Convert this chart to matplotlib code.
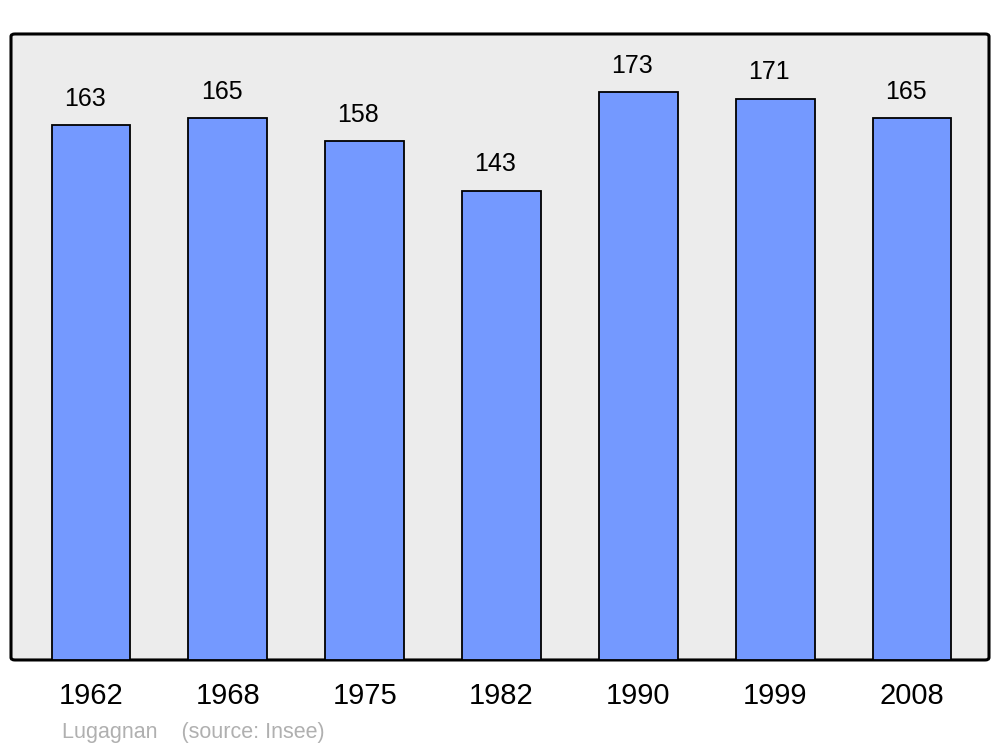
import matplotlib
matplotlib.use('Agg')
import matplotlib.pyplot as plt
from matplotlib.patches import FancyBboxPatch

plt.rcParams['font.family'] = ['Liberation Sans', 'DejaVu Sans']

years = ['1962', '1968', '1975', '1982', '1990', '1999', '2008']
population = [163, 165, 158, 143, 173, 171, 165]

fig = plt.figure(figsize=(10, 7.47), dpi=100)
ax = fig.add_axes([0.011, 0.1165, 0.978, 0.838])
ax.set_facecolor('none')

# rounded grey frame
frame = FancyBboxPatch((0, 0), 1, 1, boxstyle='round,pad=0,rounding_size=0.004',
                       transform=ax.transAxes, facecolor='#ececec', edgecolor='black',
                       linewidth=2.2, zorder=0, clip_on=False)
ax.add_patch(frame)

x = list(range(len(years)))
ax.bar(x, population, width=0.575, color='#7499ff', edgecolor='black', linewidth=1.3, zorder=2)

for xi, v in zip(x, population):
    ax.text(xi - 0.045, v + 8.0, str(v), ha='center', va='center', fontsize=18, zorder=3)

ax.set_xlim(-0.584, 6.562)
ax.set_ylim(0, 190.7)
ax.set_xticks(x)
ax.set_xticklabels(years, fontsize=21)
ax.tick_params(axis='x', length=0, pad=16)
ax.set_yticks([])
for s in ax.spines.values():
    s.set_visible(False)

fig.text(0.062, 0.012, 'Lugagnan    (source: Insee)', fontsize=15.5, color='#b0b0b0')

fig.savefig('out.png', dpi=100)
